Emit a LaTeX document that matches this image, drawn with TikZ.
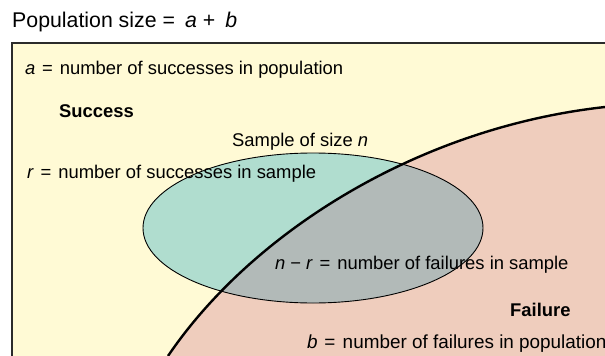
\documentclass[tikz,border=0pt]{standalone}
\usepackage{fontspec}
\setmainfont{Liberation Sans}
\usetikzlibrary{positioning}
\definecolor{popyellow}{HTML}{FFFAD5}
\definecolor{failpink}{HTML}{EFCDBD}
\definecolor{sampleteal}{HTML}{B0DDCF}
\definecolor{overlapgray}{HTML}{B2BAB8}
\definecolor{framegray}{HTML}{2B2B2B}
\newcommand{\eqsign}{\ \hspace{1.5pt}=\hspace{2pt}\ }

\begin{document}
\begin{tikzpicture}[
    x=1pt, y=-1pt,
    label/.style={anchor=west, inner sep=0pt, font=\fontsize{18.4}{21}\selectfont},
    heading/.style={label, font=\fontsize{18.4}{21}\selectfont\bfseries},
    frame/.style={draw=framegray, line width=1.2pt},
    divide/.style={draw=black, line width=2.4pt}
]
	\useasboundingbox (0,0) rectangle (605,356);
	\clip (0,0) rectangle (605,356);

	% population, split into success and failure
	\fill[popyellow] (12,43) rectangle (605,356);
	\fill[failpink] (168,356) .. controls (250,235) and (415,128) .. (605,107) -- (615,370) -- (160,370) -- cycle;

	% the sample
	\fill[sampleteal] (313,228) ellipse [x radius=170, y radius=75];
	\begin{scope}
		\clip (313,228) ellipse [x radius=170, y radius=75];
		\fill[overlapgray] (168,356) .. controls (250,235) and (415,128) .. (605,107) -- (615,370) -- (160,370) -- cycle;
	\end{scope}
	\draw[black, line width=0.9pt] (313,228) ellipse [x radius=170, y radius=75];

	\draw[divide] (168,356) .. controls (250,235) and (415,128) .. (605,107);
	\draw[frame] (12,360) -- (12,43) -- (610,43);

	\node[label, font=\fontsize{21.3}{24}\selectfont] (popsize) at (12,22) {Population size\hspace{6pt}=\hspace{10pt}\textit{a}\hspace{6pt}+\hspace{10pt}\textit{b}};
	\node[label] (succpop) at (25,70) {\textit{a}\eqsign number of successes in population};
	\node[heading] (success) at (59,111) {Success};
	\node[label] (samplesize) at (232,142) {Sample of size \textit{n}};
	\node[label] (succsample) at (27,174) {\textit{r}\eqsign number of successes in sample};
	\node[label] (failsample) at (275,265) {\textit{n}\hspace{5pt}−\hspace{5pt}\textit{r}\eqsign number of failures in sample};
	\node[heading] (failure) at (510,310) {Failure};
	\node[label, font=\fontsize{18.9}{22}\selectfont] (failpop) at (307,344) {\textit{b}\eqsign number of failures in population};
\end{tikzpicture}
\end{document}
